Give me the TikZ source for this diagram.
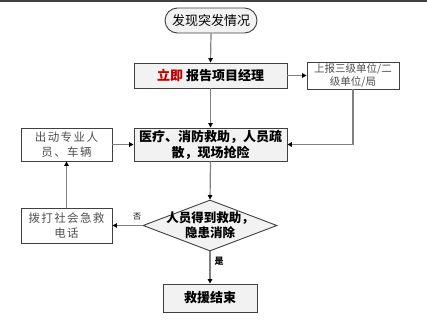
\documentclass[tikz,border=0pt]{standalone}
\usepackage{fontspec}
\setmainfont{Noto Sans CJK SC}
\newfontfamily\cjksp[LetterSpace=12]{Noto Sans CJK SC}
\usetikzlibrary{arrows.meta,shapes.geometric}
\definecolor{boxfill}{HTML}{F2F2F2}
\definecolor{boxline}{HTML}{404040}
\definecolor{conline}{HTML}{808080}
\definecolor{softtext}{HTML}{505050}
\definecolor{redtext}{HTML}{C00000}
\begin{document}
\begin{tikzpicture}[x=1pt,y=-1pt,
  graybox/.style={draw=boxline,line width=0.9pt,fill=boxfill,rectangle,inner sep=0pt,align=center,font=\bfseries\fontsize{13}{16}\selectfont},
  whitebox/.style={draw=boxline,line width=0.9pt,fill=white,rectangle,inner sep=0pt,align=center,text=softtext},
  conn/.style={draw=conline,line width=1.2pt,-{Triangle[length=4.5pt,width=4.5pt,color=black]}},
  lbl/.style={inner sep=0pt,font=\fontsize{8}{9}\selectfont}
]
\useasboundingbox (0,0) rectangle (427,335);
\fill[white] (0,0) rectangle (427,335);
\draw[boxline,line width=1.5pt] (0,0.75) -- (427,0.75);

\node[draw=boxline,line width=0.9pt,fill=boxfill,rounded corners=12.5pt,minimum width=92pt,minimum height=25pt,inner sep=0pt,font=\fontsize{13}{16}\selectfont] (start) at (211,20.5) {发现突发情况};
\node[graybox,minimum width=153pt,minimum height=25pt] (report) at (210.5,75.5) {\textcolor{redtext}{立即}\hspace{3pt}报告项目经理};
\node[whitebox,minimum width=92pt,minimum height=27pt,font=\fontsize{10.5}{13}\selectfont] (upper) at (353,75.5) {上报三级单位/二\\级单位/局};
\node[graybox,minimum width=153pt,minimum height=33pt] (act) at (210.5,144.5) {医疗、消防救助，人员疏\\散，现场抢险};
\node[whitebox,minimum width=91pt,minimum height=33pt,font=\cjksp\fontsize{11.5}{14.5}\selectfont] (dispatch) at (66.5,144.5) {出动专业人\\员、车辆};
\node[draw=boxline,line width=0.9pt,fill=boxfill,diamond,minimum width=134pt,minimum height=51pt,inner sep=0pt] (dec) at (210,225.5) {};
\node[inner sep=0pt,align=center,font=\bfseries\fontsize{12.5}{15}\selectfont] (dectext) at (dec.center) {人员得到救助，\\隐患消除};
\node[whitebox,minimum width=91pt,minimum height=35pt,font=\cjksp\fontsize{11.5}{14.5}\selectfont] (call) at (66.5,225.5) {拨打社会急救\\电话};
\node[graybox,minimum width=94pt,minimum height=28pt] (end) at (210,298) {救援结束};

\node[lbl] (no) at (137,217) {否};
\node[lbl,font=\bfseries\fontsize{9}{10}\selectfont] (yes) at (219,261) {是};

\draw[conn] (start.south) -- (report.north);
\draw[conn] (report.east) -- (upper.west);
\draw[conn] (upper.south) |- (act.east);
\draw[conn] (report.south) -- (act.north);
\draw[conn] (dispatch.east) -- (act.west);
\draw[conn] (act.south) -- (dec.north);
\draw[conn] (dec.west) -- (call.east);
\draw[conn] (call.north) -- (dispatch.south);
\draw[conn] (dec.south) -- (end.north);
\end{tikzpicture}
\end{document}
